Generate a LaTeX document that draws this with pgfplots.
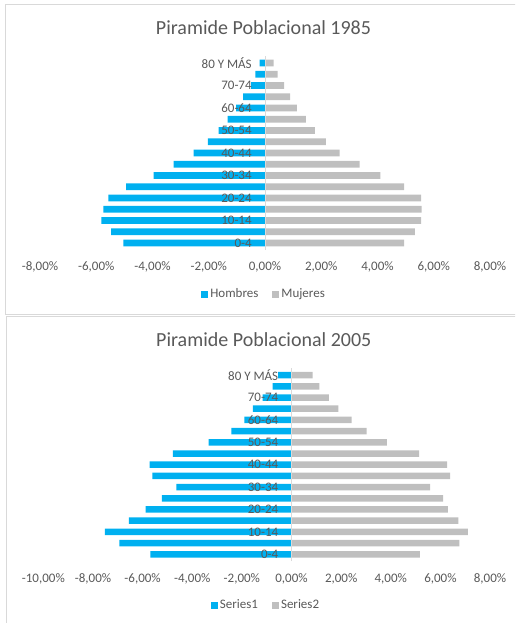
\documentclass[border=0pt]{standalone}
\usepackage{fontspec}
\setmainfont{Carlito}
\usepackage{pgfplots}
\pgfplotsset{compat=1.18}
\definecolor{cblue}{HTML}{00B0F0}
\definecolor{cgray}{HTML}{BFBFBF}
\definecolor{ctext}{HTML}{595959}
\definecolor{cframe}{HTML}{D9D9D9}
\pgfplotsset{pyr/.style={
  scale only axis, xbar, bar width=6.8pt, bar shift=0pt,
  ymin=-0.6, ymax=16.6,
  axis y line=center, axis x line=bottom,
  axis line style={draw=none}, major tick style={draw=none},
  axis on top,
  ytick={0,2,...,16},
  yticklabels={0-4,10-14,20-24,30-34,40-44,50-54,60-64,70-74,80 Y MÁS},
  yticklabel style={font=\fontsize{13}{13}\selectfont, text=ctext, inner sep=0pt, xshift=-11pt},
  xticklabel style={font=\fontsize{13}{13}\selectfont, text=ctext, inner sep=0pt, yshift=-10pt},
  extra x ticks={0}, extra x tick labels={},
  extra x tick style={grid=major, major grid style={cframe, line width=1pt}},
  legend columns=2,
  legend style={draw=none, fill=none, font=\fontsize{13}{13}\selectfont, text=ctext,
    anchor=center, /tikz/every even column/.append style={column sep=12pt}},
  legend image code/.code={\fill[##1] (0pt,-3.5pt) rectangle (7pt,3.5pt);},
}}
\begin{document}
\begin{tikzpicture}[x=1pt,y=1pt]
\path[use as bounding box] (0,0) rectangle (515,-623);
\clip (0,0) rectangle (515,-623);
\draw[cframe, line width=1.2pt] (5.5,-4.5) rectangle (540,-314.5);
\draw[cframe, line width=1.2pt] (6.5,-316.5) rectangle (540,-660);
\node[text=ctext, font=\fontsize{20}{24}\selectfont] at (263.5,-28) {Piramide Poblacional 1985};
\node[text=ctext, font=\fontsize{20}{24}\selectfont] at (263.8,-340) {Piramide Poblacional 2005};
\begin{axis}[pyr, at={(265pt,-153pt)}, anchor=center, width=450pt, height=193.5pt,
  xmin=-8, xmax=8, xtick={-8,-6,...,8},
  xticklabels={{-8,00\%},{-6,00\%},{-4,00\%},{-2,00\%},{0,00\%},{2,00\%},{4,00\%},{6,00\%},{8,00\%}},
  legend style={at={(0.498,-0.229)}}]
\addplot[fill=cblue, draw=none] coordinates {
(-5.04,0) (-5.47,1) (-5.82,2) (-5.75,3) (-5.57,4) (-4.94,5) (-3.96,6) (-3.25,7) (-2.54,8)
(-2.03,9) (-1.65,10) (-1.33,11) (-1.03,12) (-0.78,13) (-0.49,14) (-0.34,15) (-0.19,16)};
\addlegendentry{Hombres}
\addplot[fill=cgray, draw=none] coordinates {
(4.95,0) (5.33,1) (5.55,2) (5.57,3) (5.55,4) (4.95,5) (4.10,6) (3.36,7) (2.65,8)
(2.16,9) (1.77,10) (1.45,11) (1.13,12) (0.89,13) (0.68,14) (0.45,15) (0.31,16)};
\addlegendentry{Mujeres}
\end{axis}
\begin{axis}[pyr, at={(266.7pt,-464.7pt)}, anchor=center, width=446.7pt, height=192.6pt,
  bar width=6.5pt,
  xmin=-10, xmax=8, xtick={-10,-8,...,8},
  xticklabels={{-10,00\%},{-8,00\%},{-6,00\%},{-4,00\%},{-2,00\%},{0,00\%},{2,00\%},{4,00\%},{6,00\%},{8,00\%}},
  legend style={at={(0.4985,-0.2285)}}]
\addplot[fill=cblue, draw=none] coordinates {
(-5.69,0) (-6.94,1) (-7.52,2) (-6.55,3) (-5.88,4) (-5.22,5) (-4.64,6) (-5.61,7) (-5.72,8)
(-4.78,9) (-3.34,10) (-2.42,11) (-1.90,12) (-1.56,13) (-1.16,14) (-0.76,15) (-0.54,16)};
\addlegendentry{Series1}
\addplot[fill=cgray, draw=none] coordinates {
(5.17,0) (6.76,1) (7.11,2) (6.72,3) (6.30,4) (6.11,5) (5.59,6) (6.39,7) (6.27,8)
(5.14,9) (3.84,10) (3.03,11) (2.42,12) (1.89,13) (1.51,14) (1.12,15) (0.85,16)};
\addlegendentry{Series2}
\end{axis}
\end{tikzpicture}
\end{document}
